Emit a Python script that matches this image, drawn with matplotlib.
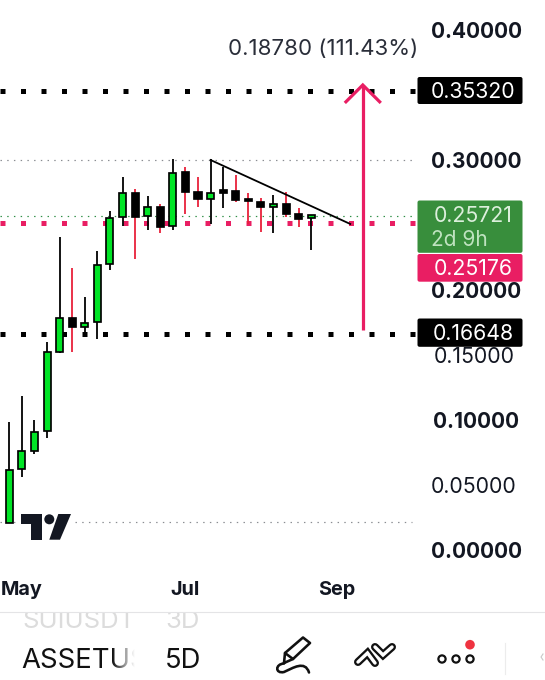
import matplotlib
matplotlib.use("Agg")
import matplotlib.pyplot as plt
import numpy as np
from matplotlib.patches import FancyBboxPatch, Polygon, Circle, Rectangle, PathPatch
from matplotlib.path import Path
from matplotlib.transforms import blended_transform_factory

# ---- data -----
opens = [.0208,.0623,.0759,.0915,.1525,.1782,.1718,.1752,.2198,.2559,.2749,.2569,.2641,.2495,.2905,.2756,.2702,.2767,.2764,.2698,.2679,.2636,.2662,.2582,.2551]
highs = [.0987,.1185,.1000,.1602,.2405,.2167,.1948,.2302,.2610,.2872,.2775,.2723,.2659,.3005,.2948,.2872,.3005,.2948,.2885,.2744,.2705,.2731,.2751,.2628,.2577]
lows  = [.0208,.0562,.0736,.0859,.1513,.1521,.1679,.1625,.2154,.2495,.2238,.2462,.2436,.2462,.2585,.2641,.2508,.2633,.2675,.2508,.2446,.2441,.2564,.2487,.2308]
closes= [.0615,.0762,.0910,.1525,.1782,.1718,.1744,.2192,.2554,.2744,.2564,.2641,.2487,.2902,.2756,.2698,.2749,.2749,.2692,.2687,.2636,.2662,.2585,.2549,.2577]
wick_up = [1,1,1,1,1,0,1,1,1,1,0,1,0,1,0,0,1,1,0,0,0,1,0,0,1]
levels_black = [0.35320, 0.16648]
level_pink = 0.25176
level_green = 0.25721
level_high = 0.30000
level_low = 0.02150
trend_start = (16, 0.30000)
trend_end = (27.1, 0.25080)
arrow_x = 28.1
arrow_from, arrow_to = 0.1690, 0.3577
bold_ticks = ["0.40000", "0.30000", "0.20000", "0.10000", "0.00000"]
light_ticks = ["0.15000", "0.05000"]
month_labels = ["May", "Jul", "Sep"]

GREEN = "#00e526"; RED = "#e8203a"; PINK = "#e91e63"; DARK = "#131722"
W, H = 545, 680
plt.rcParams["font.family"] = ["Inter", "DejaVu Sans"]

fig = plt.figure(figsize=(W/100, H/100), dpi=100, facecolor="white")
ax = fig.add_axes([0, 0, 1, 1])
X0, DX = 9.3, 12.58
ax.set_xlim(-X0/DX, (W-X0)/DX)
ax.set_ylim((550-680)/1300, 550/1300)
ax.axis("off")
ui = fig.add_axes([0, 0, 1, 1], facecolor="none")
ui.set_xlim(0, W); ui.set_ylim(H, 0); ui.axis("off")
bl = blended_transform_factory(ui.transData, ax.transData)
px = 0.72
YADJ = 1.6/1300   # text centre offset

def hdots(y, a, b, color, lw, dash, z=1):
    ax.plot([a, b], [y, y], transform=bl, color=color, lw=lw*px,
            linestyle=(0, dash), dash_capstyle="butt", zorder=z)

hdots(level_high, 0, 412, "#8a8d92", 1.2, (1.2, 4.4))
hdots(level_low, 0, 18, "#8a8d92", 1.2, (1.2, 4.4))
hdots(level_low, 75, 412, "#8a8d92", 1.2, (1.2, 4.4))
hdots(level_green, 0, 412, "#2f8f46", 1.2, (1.2, 4.4))
for lv in levels_black:
    hdots(lv, 0.2, 415, "black", 5, (1, 3.1), 2)
hdots(level_pink, 0.2, 415, PINK, 5, (1, 3.1), 2)

# candles
idx = np.arange(len(opens))
o, c = np.array(opens), np.array(closes)
wc = ["black" if w else RED for w in wick_up]
ax.vlines(idx, lows, highs, colors=wc, lw=1.8*px, zorder=3)
body_col = [GREEN if cl >= op else "black" for op, cl in zip(opens, closes)]
ax.bar(idx, np.abs(c-o), bottom=np.minimum(o, c), width=0.56, color=body_col,
       edgecolor="black", linewidth=1.7*px, zorder=4)

# trend line and arrow
ax.plot([trend_start[0], trend_end[0]], [trend_start[1], trend_end[1]], color="black", lw=1.8*px, zorder=5)
ax.plot([arrow_x, arrow_x], [arrow_from, arrow_to], color=PINK, lw=3.2*px, zorder=5, solid_capstyle="butt")
ax.plot([arrow_x-1.43, arrow_x, arrow_x+1.43], [arrow_to-.0138, arrow_to, arrow_to-.0138],
        color=PINK, lw=3.2*px, zorder=5, solid_capstyle="butt", solid_joinstyle="miter")

# price tick labels
for t in bold_ticks:
    ax.text(476, float(t)-YADJ, t, transform=bl, ha="center", va="center", fontsize=15, fontweight="bold", color=DARK, zorder=6)
for t in light_ticks:
    ax.text(474, float(t)-YADJ, t, transform=bl, ha="center", va="center", fontsize=15.3, color=DARK, zorder=6)

# label boxes
def box(y0, y1, col):
    ui.add_patch(FancyBboxPatch((417.5, y0), 105, y1-y0, boxstyle="round,pad=0,rounding_size=2", fc=col, ec="none", zorder=7))
box(77, 104, "black"); box(200.5, 252.8, "#388e3c"); box(254, 281.7, PINK); box(318.5, 346.8, "black")
LS = 15.3
ui.text(473, 91.5, "0.35320", color="white", ha="center", va="center", fontsize=LS, zorder=8)
ui.text(473, 334, "0.16648", color="white", ha="center", va="center", fontsize=LS, zorder=8)
ui.text(473, 216, "0.25721", color="#dcefdc", ha="center", va="center", fontsize=LS, zorder=8)
ui.text(459, 240, "2d 9h", color="#bfe3c0", ha="center", va="center", fontsize=LS-0.3, zorder=8)
ui.text(473, 269, "0.25176", color="white", ha="center", va="center", fontsize=LS, zorder=8)

# measurement text
t = ui.text(228, 49, "0.18780 (111.43%)", color="#2a2e39", ha="left", va="center", fontsize=16.0, zorder=6, clip_on=True)
t.set_clip_path(Rectangle((0, 0), 416, 100, transform=ui.transData))

# months
for s, x in zip(month_labels, [0.5, 170, 318]):
    ui.text(x, 590, s, fontsize=14.3, fontweight="bold", color=DARK, ha="left", va="center")

# footer
ui.plot([0, W], [612, 612], color="#e4e4e6", lw=0.8)
for s, x in [("SUIUSDT", 22), ("3D", 165)]:
    t = ui.text(x, 628.5, s, fontsize=18.5, color="#dcdcdc", ha="left", va="baseline", clip_on=True)
    t.set_clip_path(Rectangle((0, 612.5), 133 if x < 100 else W, 68, transform=ui.transData))
t = ui.text(21, 668, "ASSETUS", fontsize=19.8, color="#111", ha="left", va="baseline", clip_on=True, zorder=2)
t.set_clip_path(Rectangle((0, 612.5), 135, 68, transform=ui.transData))
grad = np.linspace(0, 1, 32).reshape(1, -1, 1)
rgba = np.concatenate([np.ones((1, 32, 3)), grad], axis=2)
ui.imshow(rgba, extent=(112, 135, 675, 640), aspect="auto", zorder=3)
ui.set_xlim(0, W); ui.set_ylim(H, 0)
ui.text(165, 668, "5D", fontsize=19.8, color="#111", ha="left", va="baseline")

# TradingView logo
ui.add_patch(Polygon([(20.7, 514), (41.7, 514), (41.7, 539.7), (30.7, 539.7), (30.7, 524), (20.7, 524)], fc=DARK, ec="none", zorder=6))
ui.add_patch(Circle((49.3, 519.3), 5, fc=DARK, ec="none", zorder=6))
ui.add_patch(Polygon([(58.3, 514), (71, 514), (60, 539.7), (49.3, 539.7)], fc=DARK, ec="none", zorder=6))

# icons
ik = dict(color="#111", lw=2.6*px, solid_capstyle="round", solid_joinstyle="round", zorder=6)
ui.plot([284, 285, 303, 310, 293, 284], [663, 653, 637.5, 643, 659, 663], **ik)
ui.plot([285, 293], [653, 659], **ik)
sq = Path([(284, 663.5), (275, 664), (275, 674), (284, 672), (293, 668), (305, 660), (309, 672.5)],
          [Path.MOVETO, Path.CURVE4, Path.CURVE4, Path.CURVE4, Path.CURVE4, Path.CURVE4, Path.CURVE4])
ui.add_patch(PathPatch(sq, fc="none", ec="#111", lw=2.6*px, capstyle="round", zorder=6))
for xs, ys in [([358, 367.5, 375], [662, 653, 663]), ([375, 383, 392], [647, 655, 647])]:
    ui.plot(xs, ys, color="#111", lw=8*px, solid_capstyle="round", solid_joinstyle="miter", zorder=6)
    ui.plot(xs, ys, color="white", lw=3.4*px, solid_capstyle="round", solid_joinstyle="miter", zorder=7)
for cx in [442, 456, 470]:
    ui.add_patch(Circle((cx, 659), 3.6, fc="white", ec="#111", lw=1.6, zorder=6))
ui.add_patch(Circle((470, 644.7), 4.8, fc="#ef3340", ec="none", zorder=8))
ui.plot([505, 505], [643, 674], color="#ececec", lw=0.8)
ui.plot([543, 541, 543], [654, 657, 660], color="#c8c8c8", lw=0.8)

fig.savefig("out.png", dpi=100, facecolor="white")
